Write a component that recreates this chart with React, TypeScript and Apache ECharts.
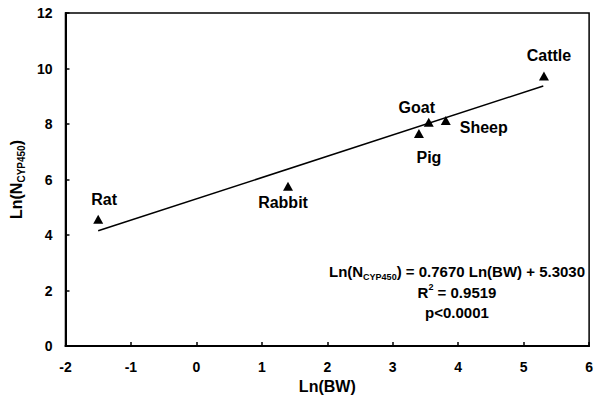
import React, { useEffect, useRef } from "react";
import * as echarts from "echarts";

const speciesNames = ["Rat", "Rabbit", "Goat", "Pig", "Sheep", "Cattle"];
const lnBW = [-1.5, 1.4, 3.55, 3.4, 3.81, 5.31];
const lnN = [4.57, 5.76, 8.06, 7.66, 8.13, 9.73];
const labelOffsets: [number, number][] = [
  [6, -20],
  [-5, 16],
  [-12, -15],
  [10, 24],
  [38, 7],
  [5, -20],
];
const fitLineX = [-1.5, 5.3];
const fitLineY = [4.15, 9.37];
const xTicks = { min: -2, max: 6, interval: 1 };
const yTicks = { min: 0, max: 12, interval: 2 };

const FONT = "'Liberation Sans', Arial, Helvetica, sans-serif";

export default function App() {
  const ref = useRef<HTMLDivElement>(null);
  useEffect(() => {
    if (!ref.current) return;
    const chart = echarts.init(ref.current, null, { renderer: "svg" });
    const mainRich = {
      a: { fontSize: 15, fontWeight: "bold", fontFamily: FONT, color: "#000", lineHeight: 20 },
      s: { fontSize: 9, fontWeight: "bold", fontFamily: FONT, color: "#000", verticalAlign: "bottom" },
      u: { fontSize: 9, fontWeight: "bold", fontFamily: FONT, color: "#000", verticalAlign: "top" },
    };
    const titleRich = {
      a: { fontSize: 16, fontWeight: "bold", fontFamily: FONT, color: "#000", lineHeight: 20 },
      s: { fontSize: 10, fontWeight: "bold", fontFamily: FONT, color: "#000", verticalAlign: "bottom" },
    };
    const axisLabel = { fontSize: 14, fontWeight: "bold", fontFamily: FONT, color: "#000" };
    const pointLabel = {
      show: true,
      position: "inside",
      formatter: "{b}",
      fontSize: 16,
      fontWeight: "bold",
      fontFamily: FONT,
      color: "#000",
      opacity: 1,
      textBorderWidth: 0,
    };
    chart.setOption({
      animation: false,
      backgroundColor: "#fff",
      grid: {
        left: 61,
        right: 5,
        top: 13,
        bottom: 57,
        show: true,
        borderColor: "#000",
        borderWidth: 1.5,
      },
      xAxis: {
        type: "value",
        min: xTicks.min,
        max: xTicks.max,
        interval: xTicks.interval,
        name: "Ln(BW)",
        nameLocation: "middle",
        nameGap: 30,
        nameTextStyle: { fontSize: 16, fontWeight: "bold", fontFamily: FONT, color: "#000" },
        axisLine: { show: true, onZero: false, lineStyle: { color: "#000", width: 2 } },
        axisTick: { show: true, inside: true, length: 4, lineStyle: { color: "#000", width: 1.5 } },
        axisLabel: { ...axisLabel, margin: 14 },
        splitLine: { show: false },
      },
      yAxis: {
        type: "value",
        min: yTicks.min,
        max: yTicks.max,
        interval: yTicks.interval,
        name: "{a|Ln(N}{s|CYP450}{a|)}",
        nameLocation: "middle",
        nameGap: 34,
        nameRotate: 90,
        nameTextStyle: { rich: titleRich },
        axisLine: { show: true, onZero: false, lineStyle: { color: "#000", width: 2 } },
        axisTick: { show: true, inside: true, length: 4, lineStyle: { color: "#000", width: 1.5 } },
        axisLabel: { ...axisLabel, margin: 13 },
        splitLine: { show: false },
      },
      series: [
        {
          type: "line",
          data: fitLineX.map((x, i) => [x, fitLineY[i]]),
          symbol: "none",
          lineStyle: { color: "#000", width: 1.5 },
          silent: true,
          z: 1,
        },
        {
          type: "scatter",
          symbol: "triangle",
          symbolSize: [10, 9],
          itemStyle: { color: "#000", opacity: 1 },
          z: 3,
          data: speciesNames.map((n, i) => ({
            name: n,
            value: [lnBW[i], lnN[i]],
            label: { ...pointLabel, offset: labelOffsets[i] },
          })),
          label: pointLabel,
        },
      ],
      graphic: [
        {
          type: "text",
          x: 457,
          y: 271,
          style: {
            text: "{a|Ln(N}{s|CYP450}{a|) = 0.7670 Ln(BW) + 5.3030}",
            rich: mainRich,
            align: "center",
            verticalAlign: "middle",
          },
        },
        {
          type: "text",
          x: 457,
          y: 292,
          style: {
            text: "{a|R}{u|2}{a| = 0.9519}",
            rich: mainRich,
            align: "center",
            verticalAlign: "middle",
          },
        },
        {
          type: "text",
          x: 457,
          y: 312,
          style: {
            text: "{a|p<0.0001}",
            rich: mainRich,
            align: "center",
            verticalAlign: "middle",
          },
        },
      ],
    });
    return () => chart.dispose();
  }, []);
  return (
    <div
      ref={ref}
      style={{ position: "fixed", left: 0, top: 0, width: 596, height: 403, background: "#fff" }}
    />
  );
}
